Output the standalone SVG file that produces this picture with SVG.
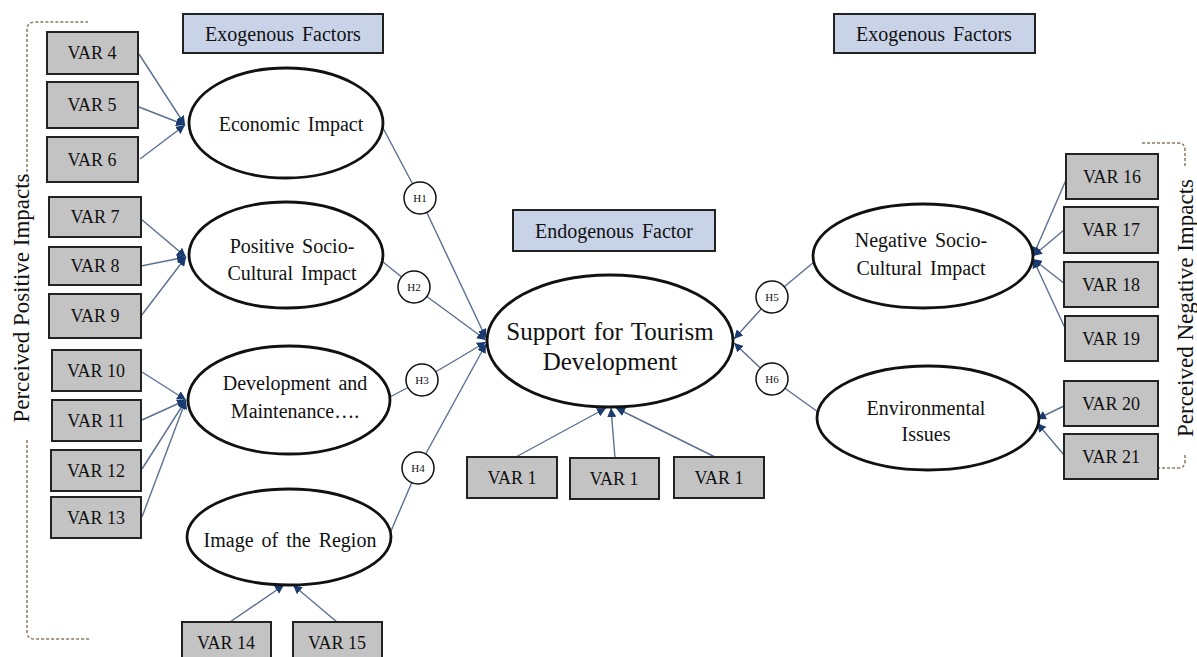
<svg xmlns="http://www.w3.org/2000/svg" width="1197" height="657" viewBox="0 0 1197 657">
<style>
text{font-family:"Liberation Serif","Times New Roman",serif;fill:#111;text-anchor:middle}
.var rect{fill:#c3c3c3;stroke:#222;stroke-width:2}
.var text{font-size:18px}
.hdr rect{fill:#c8d3e8;stroke:#222;stroke-width:2}
.hdr text{font-size:20px;word-spacing:3px}
.lat ellipse{fill:#fff;stroke:#111;stroke-width:2.8}
.lat text{font-size:20px;word-spacing:3px}
.h circle{fill:#fff;stroke:#111;stroke-width:1.5}
.h text{font-size:11px}
.c{stroke:#5b7090;stroke-width:1.4;fill:none}
.a{marker-end:url(#ah)}
.br{stroke:#8a7a66;stroke-width:1.5;fill:none;stroke-dasharray:3 2}
.side{font-size:23px}
</style>
<defs>
<marker id="ah" viewBox="0 0 10 10" refX="10" refY="5" markerWidth="9" markerHeight="9" markerUnits="userSpaceOnUse" orient="auto">
<path d="M0,0 L10,5 L0,10 z" fill="#1a3a70"/>
</marker>
</defs>
<rect width="1197" height="657" fill="#fff"/>

<g id="brackets">
<path class="br" d="M27,182 V30 Q27,22 35,22 H88"/>
<path class="br" d="M27,440 V632 Q27,639 35,639 H90"/>
<path class="br" d="M1142,143 H1178 Q1185,143 1185,150 V166"/>
<path class="br" d="M1185,455 V461 Q1185,468 1178,468 H1142"/>
<text class="side" transform="translate(29,298) rotate(-90)">Perceived Positive Impacts</text>
<text class="side" transform="translate(1193,308) rotate(-90)">Perceived Negative Impacts</text>
</g>

<g id="connectors">
<line class="c a" x1="139" y1="54" x2="185" y2="125"/>
<line class="c a" x1="139" y1="107" x2="185" y2="125"/>
<line class="c a" x1="140" y1="159" x2="185" y2="125"/>
<line class="c a" x1="141" y1="219" x2="186" y2="257"/>
<line class="c a" x1="141" y1="266" x2="186" y2="257"/>
<line class="c a" x1="141" y1="316" x2="186" y2="257"/>
<line class="c a" x1="142" y1="372" x2="186" y2="400"/>
<line class="c a" x1="142" y1="420" x2="186" y2="400"/>
<line class="c a" x1="142" y1="469" x2="186" y2="400"/>
<line class="c a" x1="142" y1="517" x2="186" y2="400"/>
<line class="c a" x1="230" y1="622" x2="284" y2="585"/>
<line class="c a" x1="337" y1="622" x2="293" y2="585"/>
<line class="c" x1="383" y1="128" x2="420" y2="198"/>
<line class="c a" x1="420" y1="198" x2="486" y2="338"/>
<line class="c" x1="383" y1="262" x2="414" y2="287"/>
<line class="c a" x1="414" y1="287" x2="486" y2="340"/>
<line class="c" x1="390" y1="397" x2="422" y2="380"/>
<line class="c a" x1="422" y1="380" x2="486" y2="342"/>
<line class="c" x1="391" y1="531" x2="418" y2="468"/>
<line class="c a" x1="418" y1="468" x2="486" y2="344"/>
<line class="c" x1="814" y1="262" x2="772" y2="297"/>
<line class="c a" x1="772" y1="297" x2="734" y2="339"/>
<line class="c" x1="818" y1="412" x2="772" y2="379"/>
<line class="c a" x1="772" y1="379" x2="734" y2="343"/>
<line class="c a" x1="514" y1="458" x2="606" y2="408"/>
<line class="c a" x1="615" y1="458" x2="611" y2="408"/>
<line class="c a" x1="717" y1="458" x2="616" y2="408"/>
<line class="c a" x1="1066" y1="180" x2="1033" y2="256"/>
<line class="c a" x1="1064" y1="230" x2="1033" y2="256"/>
<line class="c a" x1="1065" y1="284" x2="1033" y2="259"/>
<line class="c a" x1="1065" y1="328" x2="1033" y2="259"/>
<line class="c a" x1="1064" y1="406" x2="1037" y2="419"/>
<line class="c a" x1="1064" y1="455" x2="1037" y2="423"/>
</g>

<g id="hdr-exo-left" class="hdr"><rect x="183" y="14" width="200" height="39"/><text x="283" y="41">Exogenous Factors</text></g>
<g id="hdr-exo-right" class="hdr"><rect x="834" y="14" width="201" height="39"/><text x="934" y="41">Exogenous Factors</text></g>
<g id="hdr-endo" class="hdr"><rect x="513" y="210" width="202" height="41"/><text x="614" y="238">Endogenous Factor</text></g>

<g id="var4" class="var"><rect x="47" y="32" width="91" height="42"/><text x="92" y="59">VAR 4</text></g>
<g id="var5" class="var"><rect x="47" y="82" width="91" height="46"/><text x="92" y="111">VAR 5</text></g>
<g id="var6" class="var"><rect x="47" y="137" width="91" height="45"/><text x="92" y="166">VAR 6</text></g>
<g id="var7" class="var"><rect x="49" y="197" width="92" height="40"/><text x="95" y="223">VAR 7</text></g>
<g id="var8" class="var"><rect x="49" y="247" width="92" height="38"/><text x="95" y="272">VAR 8</text></g>
<g id="var9" class="var"><rect x="49" y="294" width="92" height="44"/><text x="95" y="322">VAR 9</text></g>
<g id="var10" class="var"><rect x="52" y="350" width="89" height="41"/><text x="96" y="377">VAR 10</text></g>
<g id="var11" class="var"><rect x="52" y="400" width="89" height="41"/><text x="96" y="427">VAR 11</text></g>
<g id="var12" class="var"><rect x="51" y="450" width="90" height="41"/><text x="96" y="477">VAR 12</text></g>
<g id="var13" class="var"><rect x="51" y="497" width="90" height="41"/><text x="96" y="524">VAR 13</text></g>
<g id="var14" class="var"><rect x="182" y="622" width="89" height="42"/><text x="226" y="649">VAR 14</text></g>
<g id="var15" class="var"><rect x="293" y="622" width="89" height="42"/><text x="337" y="649">VAR 15</text></g>
<g id="var1a" class="var"><rect x="467" y="457" width="90" height="41"/><text x="512" y="484">VAR 1</text></g>
<g id="var1b" class="var"><rect x="570" y="458" width="89" height="41"/><text x="614" y="485">VAR 1</text></g>
<g id="var1c" class="var"><rect x="674" y="457" width="90" height="41"/><text x="719" y="484">VAR 1</text></g>
<g id="var16" class="var"><rect x="1066" y="154" width="92" height="45"/><text x="1112" y="183">VAR 16</text></g>
<g id="var17" class="var"><rect x="1064" y="207" width="94" height="46"/><text x="1111" y="236">VAR 17</text></g>
<g id="var18" class="var"><rect x="1064" y="262" width="94" height="45"/><text x="1111" y="291">VAR 18</text></g>
<g id="var19" class="var"><rect x="1065" y="316" width="93" height="45"/><text x="1111" y="345">VAR 19</text></g>
<g id="var20" class="var"><rect x="1064" y="381" width="94" height="45"/><text x="1111" y="410">VAR 20</text></g>
<g id="var21" class="var"><rect x="1064" y="434" width="94" height="45"/><text x="1111" y="463">VAR 21</text></g>

<g id="economic" class="lat"><ellipse cx="286" cy="123" rx="97" ry="55"/><text x="291" y="131">Economic Impact</text></g>
<g id="possoc" class="lat"><ellipse cx="286" cy="255" rx="97" ry="53"/><text x="292" y="253">Positive Socio-</text><text x="292" y="280">Cultural Impact</text></g>
<g id="devmaint" class="lat"><ellipse cx="289" cy="400" rx="101" ry="54"/><text x="295" y="390">Development and</text><text x="295" y="418">Maintenance….</text></g>
<g id="image" class="lat"><ellipse cx="289" cy="537" rx="102" ry="48"/><text x="290" y="547">Image of the Region</text></g>
<g id="support" class="lat"><ellipse cx="610" cy="341" rx="123" ry="66"/><text x="610" y="340" style="font-size:25px;word-spacing:2px">Support for Tourism</text><text x="610" y="370" style="font-size:25px">Development</text></g>
<g id="negsoc" class="lat"><ellipse cx="923" cy="256" rx="110" ry="52"/><text x="921" y="247">Negative Socio-</text><text x="921" y="275">Cultural Impact</text></g>
<g id="env" class="lat"><ellipse cx="928" cy="418" rx="111" ry="52"/><text x="926" y="415">Environmental</text><text x="926" y="441">Issues</text></g>

<g id="h1" class="h"><circle cx="420" cy="198" r="16"/><text x="420" y="202">H1</text></g>
<g id="h2" class="h"><circle cx="414" cy="287" r="16"/><text x="414" y="291">H2</text></g>
<g id="h3" class="h"><circle cx="422" cy="380" r="16"/><text x="422" y="384">H3</text></g>
<g id="h4" class="h"><circle cx="418" cy="468" r="16"/><text x="418" y="472">H4</text></g>
<g id="h5" class="h"><circle cx="772" cy="297" r="16"/><text x="772" y="301">H5</text></g>
<g id="h6" class="h"><circle cx="772" cy="379" r="16"/><text x="772" y="383">H6</text></g>
</svg>
